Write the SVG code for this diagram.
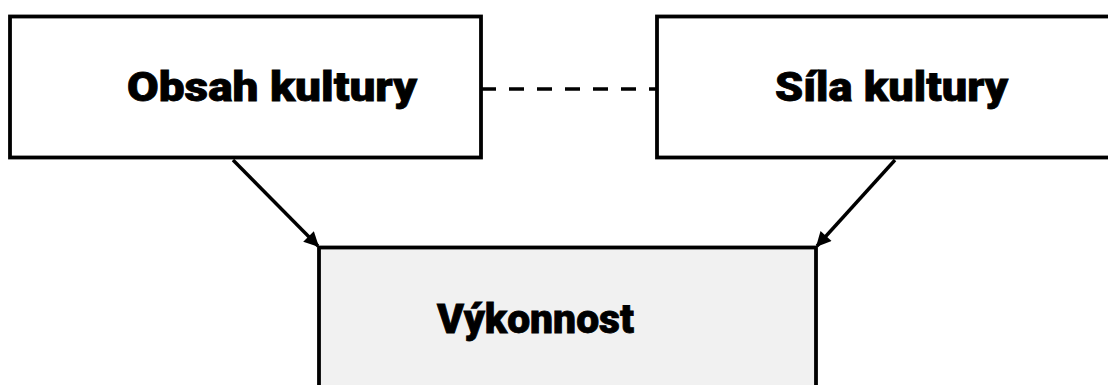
<svg xmlns="http://www.w3.org/2000/svg" width="1108" height="385" viewBox="0 0 1108 385">
<style>
.box{stroke:#000;stroke-width:3.8;fill:#fff}
.gray{fill:#f1f1f1}
.lbl{font-family:"Roboto","Lato","Liberation Sans",sans-serif;font-weight:900;font-size:41px;fill:#000;stroke:#000;stroke-width:0.8}
.con{stroke:#000;stroke-width:3.4;fill:none}
</style>
<defs>
<marker id="arr" viewBox="0 0 10 10" refX="9" refY="5" markerWidth="5.2" markerHeight="4.4" markerUnits="strokeWidth" orient="auto">
<path d="M0,0 L10,5 L0,10 z" fill="#000"/>
</marker>
</defs>
<g id="node-obsah">
<rect class="box" x="10" y="16.5" width="471" height="141"/>
<text class="lbl" x="127" y="101" textLength="290" lengthAdjust="spacingAndGlyphs">Obsah kultury</text>
</g>
<g id="node-sila">
<rect class="box" x="657" y="16.5" width="471" height="141"/>
<text class="lbl" x="775" y="101" textLength="233" lengthAdjust="spacingAndGlyphs">Síla kultury</text>
</g>
<g id="node-vykonnost">
<rect class="box gray" x="319" y="247.5" width="497" height="160"/>
<text class="lbl" x="437" y="333" textLength="197" lengthAdjust="spacingAndGlyphs">Výkonnost</text>
</g>
<g id="connectors">
<line class="con" x1="481" y1="89" x2="657" y2="89" stroke-dasharray="15,13"/>
<line class="con" x1="233" y1="160" x2="318" y2="246" marker-end="url(#arr)"/>
<line class="con" x1="895" y1="160" x2="817" y2="246" marker-end="url(#arr)"/>
</g>
</svg>
